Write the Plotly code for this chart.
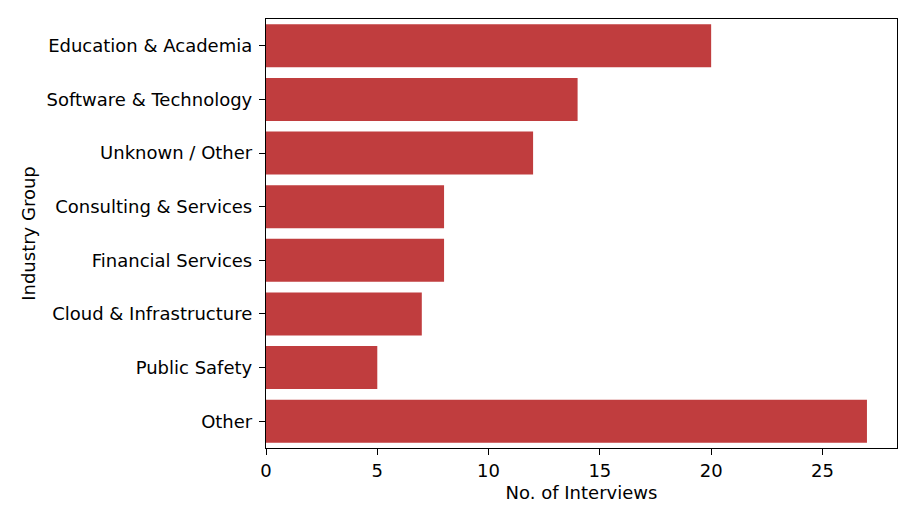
import plotly.graph_objects as go

categories = ["Education & Academia", "Software & Technology", "Unknown / Other",
              "Consulting & Services", "Financial Services", "Cloud & Infrastructure",
              "Public Safety", "Other"]
interviews = [20, 14, 12, 8, 8, 7, 5, 27]
x_ticks = [0, 5, 10, 15, 20, 25]

fig = go.Figure(go.Bar(
    x=interviews, y=categories, orientation="h",
    marker=dict(color="#C03D3E", line=dict(width=0)),
))

font = dict(family="DejaVu Sans", size=18, color="black")
fig.update_layout(
    width=910, height=516,
    margin=dict(l=258, r=21, t=11, b=76, autoexpand=False),
    paper_bgcolor="white", plot_bgcolor="white",
    bargap=0.2, showlegend=False, font=font,
)
fig.update_xaxes(
    range=[0, 28.35], tickvals=x_ticks, ticks="outside", ticklen=6, tickwidth=1.3,
    tickcolor="black", showline=True, linecolor="black", linewidth=1.3, mirror=True,
    showgrid=False, zeroline=False,
    title=dict(text="No. of Interviews", font=font, standoff=6),
)
fig.update_yaxes(
    categoryorder="array", categoryarray=categories, autorange="reversed",
    ticks="outside", ticklen=6, tickwidth=1.3, tickcolor="black", ticklabelstandoff=3,
    showline=True, linecolor="black", linewidth=1.3, mirror=True, showgrid=False,
    title=dict(text="Industry Group", font=font, standoff=6),
)
fig.write_html("out.html")
